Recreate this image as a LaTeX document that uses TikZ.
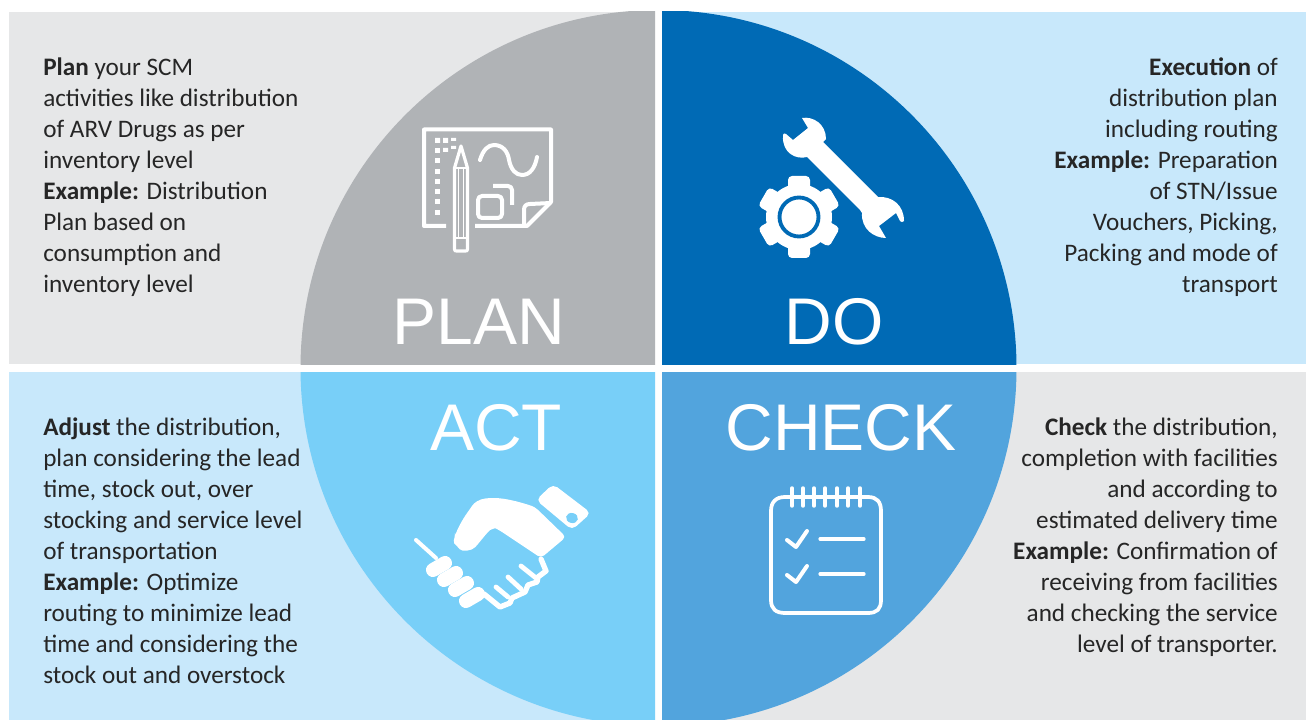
\documentclass[tikz,border=0pt]{standalone}
\usepackage{fontspec}
\setmainfont{Carlito}
\newfontfamily\bigfont{Liberation Sans}
\definecolor{panelgrey}{HTML}{E6E7E8}
\definecolor{panelblue}{HTML}{C8E8FB}
\definecolor{planc}{HTML}{B0B3B6}
\definecolor{doc}{HTML}{006AB5}
\definecolor{actc}{HTML}{78CFF8}
\definecolor{checkc}{HTML}{52A4DD}
\tikzset{
  body/.style={inner sep=0pt,font=\fontsize{18.9}{23.25}\selectfont,text=black!85},
  leftbody/.style={body,anchor=north west,align=left},
  rightbody/.style={body,anchor=north east,align=right},
  bigword/.style={inner sep=0pt,anchor=base,text=white,font=\bigfont\fontsize{49.5}{49.5}\selectfont},
  iconline/.style={draw=white,line width=3pt,line cap=round,line join=round},
  thinline/.style={draw=white,line width=2.4pt,line cap=round,line join=round},
}
\begin{document}
\begin{tikzpicture}[x=0.75pt,y=-0.75pt]
\useasboundingbox (0,0) rectangle (1306,720);
\fill[white] (0,0) rectangle (1306,720);
\fill[panelgrey] (9,12) rectangle (655,364);
\fill[panelblue] (662,12) rectangle (1306,364);
\fill[panelblue] (9,372) rectangle (655,720);
\fill[panelgrey] (662,372) rectangle (1306,720);
\begin{scope}\clip (9,12) rectangle (655,364); \fill[planc] (658.5,368) circle[radius=358]; \end{scope}
\begin{scope}\clip (662,12) rectangle (1306,364); \fill[doc] (658.5,368) circle[radius=358]; \end{scope}
\begin{scope}\clip (9,372) rectangle (655,720); \fill[actc] (658.5,368) circle[radius=358]; \end{scope}
\begin{scope}\clip (662,372) rectangle (1306,720); \fill[checkc] (658.5,368) circle[radius=358]; \end{scope}

\node[bigword] (planword) at (479,344) {PLAN};
\node[bigword] (doword) at (834,344) {DO};
\node[bigword] (actword) at (496,450) {ACT};
\node[bigword] (checkword) at (841,450) {CHECK};

\node[leftbody] (plantext) at (43,58) {\textbf{Plan} your SCM\\activities like distribution\\of ARV Drugs as per\\inventory level\\\textbf{Example:} Distribution\\Plan based on\\consumption and\\inventory level};
\node[rightbody] (dotext) at (1278,58) {\textbf{Execution} of\\distribution plan\\including routing\\\textbf{Example:} Preparation\\of STN/Issue\\Vouchers, Picking,\\Packing and mode of\\transport};
\node[leftbody] (acttext) at (43,418) {\textbf{Adjust} the distribution,\\plan considering the lead\\time, stock out, over\\stocking and service level\\of transportation\\\textbf{Example:} Optimize\\routing to minimize lead\\time and considering the\\stock out and overstock};
\node[rightbody] (checktext) at (1278,418) {\textbf{Check} the distribution,\\completion with facilities\\and according to\\estimated delivery time\\\textbf{Example:} Confirmation of\\receiving from facilities\\and checking the service\\level of transporter.};

% PLAN icon
\draw[iconline,line cap=butt] (446,226) -- (424,226) -- (424,129.5) -- (551,129.5) -- (551,202) -- (527,226) -- (475,226);
\draw[iconline,line cap=butt] (551,203) -- (530,204) .. controls (526,204) and (524,206) .. (524,210) -- (524,226);
\draw[thinline] (461,146) -- (454.5,168) -- (454.5,249) .. controls (454.5,251) and (455,251) .. (457,251) -- (465,251) .. controls (467,251) and (467.5,251) .. (467.5,249) -- (467.5,168) -- cycle;
\draw[white,line width=1.4pt] (454.5,168) -- (467.5,168) (458.5,168) -- (458.5,238) (463.5,168) -- (463.5,238) (454.5,238) -- (467.5,238);
\foreach \yy in {148,158,169,179,189,199,210}{\fill[white] (435,\yy) rectangle +(5,5);}
\fill[white] (443,138) rectangle +(5,5) (435,138) rectangle +(5,5) (451,138) rectangle +(5,3) (443,148) rectangle +(5,4) (451,146) rectangle +(5,3);
\draw[iconline] (480,160) .. controls (483,150) and (488,145) .. (494,145) .. controls (503,145) and (508,152) .. (509,160) .. controls (511,170) and (516,175) .. (522,175) .. controls (530,175) and (535,168) .. (537,157);
\draw[iconline,rounded corners=3pt] (478,196) rectangle (502,218);
\draw[iconline,line cap=butt,rounded corners=3pt] (493,186) -- (512,186) -- (512,205);

% DO icon
\fill[white] (802,118) .. controls (813,116) and (826,124) .. (826,139) -- (823,142) -- (878,197) .. controls (892,196) and (904,205) .. (904,221) .. controls (903,223) and (901,222) .. (900,221) -- (896,213) -- (879,226) -- (886,238) .. controls (874,238) and (861,229) .. (862,213) -- (860,210) -- (807,157) .. controls (796,160) and (782,153) .. (783,136) .. controls (783,133) and (785,133) .. (786,134) -- (793,140) -- (808,128) -- cycle;
\fill[white] (799,217) circle[radius=33];
\foreach \aa in {0,60,120,180,240,300}{
  \fill[white,rounded corners=3pt,shift={(799,217)},rotate=\aa] (-11,-41) rectangle (11,0);
}
\draw[doc,line width=2.9pt] (799,217) circle[radius=19.5];

% ACT icon
\fill[white,rounded corners=4pt] (536,500) -- (553,484) -- (591,513) -- (572,530) -- cycle;
\fill[actc,rotate around={-15:(572,518)}] (572,518) ellipse[x radius=6,y radius=5];
\fill[white,rounded corners=3pt] (455,537) .. controls (457,530) and (462,520) .. (470,509) .. controls (474,503) and (479,499) .. (490,498) .. controls (505,498) and (520,502) .. (535,507) -- (566,537) -- (541,558) -- (499,530) .. controls (495,528) and (490,530) .. (487,533) -- (478,544) .. controls (472,551) and (462,552) .. (457,546) .. controls (454,543) and (454,540) .. (455,537) -- cycle;
\draw[iconline] (416,540) -- (436,558);
\draw[iconline,line width=4pt] (484,594) -- (500,607) -- (510,603) -- (512,598) -- (525,592) -- (528,585) -- (537,582) -- (538,577) -- (546,571) -- (541,559);
\draw[iconline,line width=3.6pt] (496,587) -- (508,597) (508,577) -- (521,589) (521,566) -- (536,578);
\foreach \xa/\ya in {439/566,450/576,461/586,472/597}{
  \draw[white,line width=10.5pt,line cap=round,shift={(\xa,\ya)}] (-6,4) -- (6,-3);
}

% CHECK icon
\draw[iconline,line width=2.8pt] (785,497) -- (868,497) .. controls (877,497) and (881,502) .. (881,511) -- (881,600) .. controls (881,609) and (877,613) .. (868,613) -- (785,613) .. controls (776,613) and (771,609) .. (771,600) -- (771,511) .. controls (771,502) and (776,497) .. (785,497) -- cycle;
\foreach \xx in {792,803,814,825,837,848,860}{
  \draw[iconline,line width=2.6pt] (\xx,488) -- (\xx,506);
}
\draw[iconline,line width=3pt] (787,540) -- (796,547) -- (807,531);
\draw[iconline,line width=3pt] (787,575) -- (796,582) -- (807,566);
\draw[iconline,line width=2.4pt] (820,539) -- (864,539);
\draw[iconline,line width=2.4pt] (820,574) -- (864,574);
\end{tikzpicture}
\end{document}
